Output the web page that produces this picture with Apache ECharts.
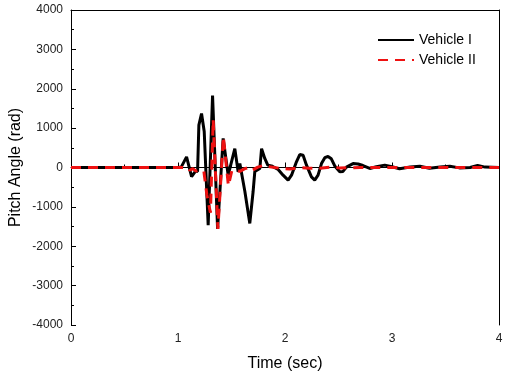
<!DOCTYPE html>
<html><head><meta charset="utf-8">
<script src="https://cdn.jsdelivr.net/npm/echarts@6/dist/echarts.min.js"></script>
<style>html,body{margin:0;padding:0;background:#fff}#c{width:510px;height:377px}</style>
</head><body><div id="c"></div>
<script>
var seriesNames = ['Vehicle I', 'Vehicle II'];
var xTicks = [0, 1, 2, 3, 4];
var yTicks = [-4000, -3000, -2000, -1000, 0, 1000, 2000, 3000, 4000];

var t1 = [0, 1.0, 1.03, 1.08, 1.127, 1.164, 1.183, 1.195, 1.22, 1.245, 1.282, 1.323, 1.37, 1.422, 1.469, 1.531, 1.562, 1.578, 1.625, 1.671, 1.702, 1.718, 1.765, 1.781, 1.811, 1.839, 1.874, 1.936, 1.982, 2.029, 2.061, 2.107, 2.138, 2.169, 2.201, 2.247, 2.278, 2.309, 2.341, 2.372, 2.402, 2.433, 2.465, 2.512, 2.542, 2.574, 2.636, 2.683, 2.729, 2.792, 2.854, 2.932, 3.0, 3.07, 3.17, 3.26, 3.35, 3.45, 3.54, 3.63, 3.73, 3.8, 3.87, 4.0];
var v1 = [0, 0, 10, 270, -230, -90, -100, 1075, 1370, 915, -1465, 1830, -1560, 740, -195, 480, -110, 100, -610, -1420, -610, -100, -25, 480, 230, 60, 40, -50, -195, -320, -195, 145, 330, 310, 60, -240, -320, -195, 100, 250, 280, 220, 40, -110, -100, 10, 100, 90, 50, -25, 20, 60, 20, -30, 10, 30, -20, 10, 30, -10, 0, 50, 10, 0];

var t2 = [0, 1.092, 1.111, 1.139, 1.167, 1.195, 1.242, 1.27, 1.303, 1.329, 1.373, 1.424, 1.471, 1.503, 1.541, 1.578, 1.625, 1.671, 1.7, 1.746, 1.811, 1.858, 1.95, 2.045, 2.138, 2.23, 2.325, 2.42, 2.51, 2.7, 3.0, 3.3, 3.6, 4.0];
var v2 = [0, 0, -70, -30, -90, -60, -100, -700, -1150, 1220, -1560, 780, -460, -80, -60, -100, -30, 10, -60, 10, 60, 20, -20, -40, 0, -20, -20, 10, -10, 0, 0, 0, 0, 0];

function pairs(t, v) { return t.map(function (x, i) { return [x, v[i]]; }); }
function plain(v) { return String(v); }

var font = 'Arial, "Liberation Sans", sans-serif';
var chart = echarts.init(document.getElementById('c'), null, { renderer: 'canvas' });
chart.setOption({
  animation: false,
  backgroundColor: '#fff',
  textStyle: { fontFamily: font },
  grid: { left: 71, right: 11, top: 10, bottom: 52, containLabel: false, outerBoundsMode: 'none' },
  legend: {
    orient: 'vertical', left: 372, top: 28, itemWidth: 36, itemHeight: 14, itemGap: 6,
    itemStyle: { opacity: 0 },
    textStyle: { fontSize: 14, color: '#000', fontFamily: font },
    data: seriesNames
  },
  xAxis: [{
    type: 'value', min: xTicks[0], max: xTicks[xTicks.length - 1], interval: 1,
    name: 'Time (sec)', nameLocation: 'middle', nameGap: 31, nameMoveOverlap: false,
    nameTextStyle: { fontSize: 16, color: '#000', fontFamily: font },
    axisLine: { lineStyle: { color: '#000', width: 1 } },
    axisTick: { inside: true, length: 5, lineStyle: { color: '#000' } },
    minorTick: { show: true, splitNumber: 2, length: 3, lineStyle: { color: '#000' } },
    axisLabel: { fontSize: 12, color: '#222', margin: 8, fontFamily: font, formatter: plain },
    splitLine: { show: false }
  }, {
    type: 'value', position: 'top', min: 0, max: 4,
    axisLine: { show: true, onZero: false, lineStyle: { color: '#000', width: 1 } },
    axisTick: { show: false }, axisLabel: { show: false }, splitLine: { show: false }
  }],
  yAxis: [{
    type: 'value', min: yTicks[0], max: yTicks[yTicks.length - 1], interval: 1000,
    name: 'Pitch Angle (rad)', nameLocation: 'middle', nameGap: 47, nameMoveOverlap: false,
    nameTextStyle: { fontSize: 16, color: '#000', fontFamily: font },
    axisLine: { show: true, onZero: false, lineStyle: { color: '#000', width: 1 } },
    axisTick: { inside: true, length: 5, lineStyle: { color: '#000' } },
    minorTick: { show: true, splitNumber: 2, length: 3, lineStyle: { color: '#000' } },
    axisLabel: { fontSize: 12, color: '#222', margin: 8, fontFamily: font, formatter: plain },
    splitLine: { show: false }
  }, {
    type: 'value', position: 'right', min: -4000, max: 4000,
    axisLine: { show: true, onZero: false, lineStyle: { color: '#000', width: 1 } },
    axisTick: { show: false }, axisLabel: { show: false }, splitLine: { show: false }
  }],
  series: [{
    name: seriesNames[0], type: 'line', data: pairs(t1, v1), showSymbol: false, symbol: 'none',
    color: '#000', lineStyle: { color: '#000', width: 3 }
  }, {
    name: seriesNames[1], type: 'line', data: pairs(t2, v2), showSymbol: false, symbol: 'none',
    color: '#ee1111', lineStyle: { color: '#ee1111', width: 3, type: [10, 7] }
  }]
});
</script></body></html>
